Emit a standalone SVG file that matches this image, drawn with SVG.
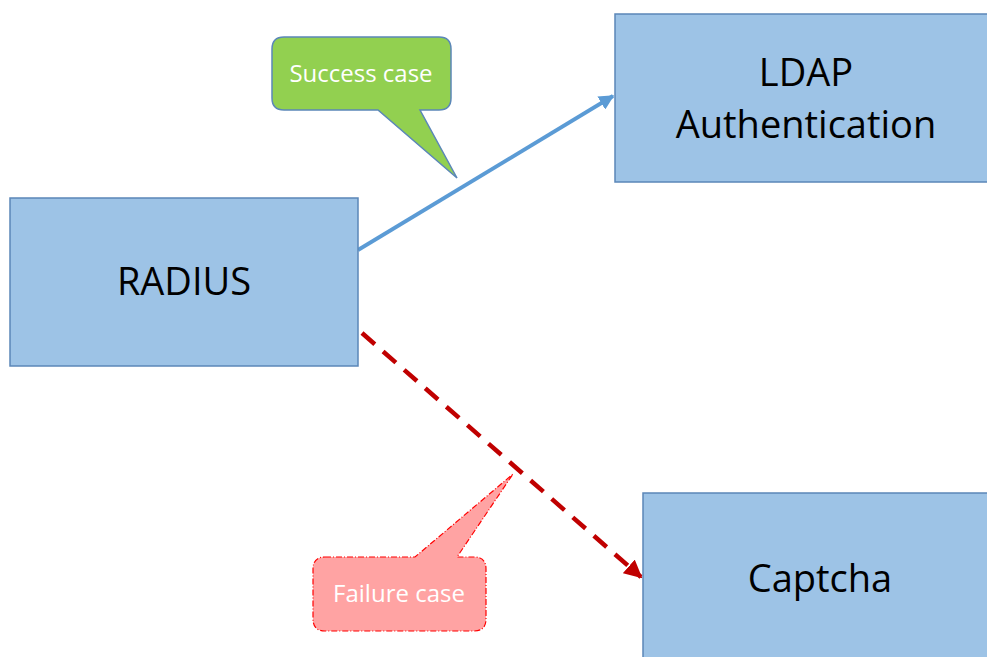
<svg xmlns="http://www.w3.org/2000/svg" width="987" height="657" viewBox="0 0 987 657">
<defs>
<style>
.box{fill:#9DC3E6;stroke:#5B87B8;stroke-width:1.5}
.lbl{font-family:"Open Sans","Liberation Sans",sans-serif;font-size:38px;fill:#000;text-anchor:middle}
.cl{font-family:"Open Sans","Liberation Sans",sans-serif;font-size:24px;fill:#fff;text-anchor:middle}
</style>
<marker id="ab" viewBox="0 0 10 10" refX="9" refY="5" markerWidth="4" markerHeight="4" orient="auto" markerUnits="strokeWidth"><path d="M0,0 L10,5 L0,10 z" fill="#5B9BD5"/></marker>
<marker id="ar" viewBox="0 0 10 10" refX="9" refY="5" markerWidth="4" markerHeight="4" orient="auto" markerUnits="strokeWidth"><path d="M0,0 L10,5 L0,10 z" fill="#C00000"/></marker>
</defs>
<rect width="987" height="657" fill="#fff"/>
<g id="connectors">
<line x1="358" y1="250" x2="613" y2="96" stroke="#5B9BD5" stroke-width="3.8" marker-end="url(#ab)"/>
<line x1="362" y1="333" x2="641" y2="577" stroke="#C00000" stroke-width="4.5" stroke-dasharray="17,11" marker-end="url(#ar)"/>
</g>
<g id="radius">
<rect class="box" x="10" y="198" width="348" height="168"/>
<text class="lbl" x="184" y="295">RADIUS</text>
</g>
<g id="ldap">
<rect class="box" x="615" y="14" width="380" height="168"/>
<text class="lbl" x="806" y="86">LDAP</text>
<text class="lbl" x="806" y="138">Authentication</text>
</g>
<g id="captcha">
<rect class="box" x="643" y="493" width="352" height="180"/>
<text class="lbl" x="820" y="592">Captcha</text>
</g>
<g id="success-callout">
<path d="M284,37 H439 Q451,37 451,49 V98 Q451,110 439,110 H420 L457,178 L378,110 H284 Q272,110 272,98 V49 Q272,37 284,37 Z" fill="#92D050" stroke="#5B87B8" stroke-width="1.5"/>
<text class="cl" x="361" y="82">Success case</text>
</g>
<g id="failure-callout">
<path d="M325,557 H415 L513,474 L457,557 H474 Q486,557 486,569 V619 Q486,631 474,631 H325 Q313,631 313,619 V569 Q313,557 325,557 Z" fill="#FFA3A3" stroke="#FF0000" stroke-width="1.2" stroke-dasharray="6,2,1,2"/>
<text class="cl" x="399" y="602">Failure case</text>
</g>
</svg>
